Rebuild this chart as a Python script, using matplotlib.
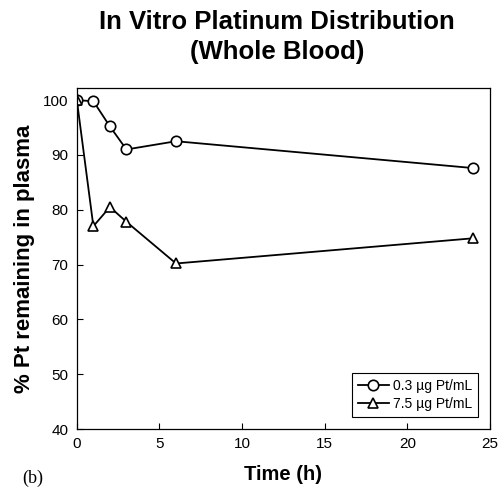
import matplotlib
matplotlib.use("Agg")
import matplotlib.pyplot as plt

time_h = [0, 1, 2, 3, 6, 24]
low_dose = [100, 99.8, 95.2, 91.0, 92.5, 87.6]
high_dose = [100, 77.0, 80.5, 77.8, 70.2, 74.8]
series_labels = ["0.3 \u00b5g Pt/mL", "7.5 \u00b5g Pt/mL"]
x_ticks = [0, 5, 10, 15, 20, 25]
y_ticks = [40, 50, 60, 70, 80, 90, 100]

plt.rcParams["font.family"] = ["Liberation Sans", "DejaVu Sans"]

fig = plt.figure(figsize=(4.99, 4.92), dpi=100)
ax = fig.add_axes([0.154, 0.128, 0.828, 0.693])

ax.plot(time_h, low_dose, color="black", lw=1.3, marker="o", ms=7.5,
        mfc="white", mec="black", mew=1.2, label=series_labels[0])
ax.plot(time_h, high_dose, color="black", lw=1.3, marker="^", ms=7.5,
        mfc="white", mec="black", mew=1.2, label=series_labels[1])

ax.set_xlim(0, 25)
ax.set_ylim(40, 102.2)
ax.set_xticks(x_ticks)
ax.set_yticks(y_ticks)
ax.tick_params(direction="in", length=4, width=0.8, labelsize=11, pad=6)
for sp in ax.spines.values():
    sp.set_linewidth(0.9)

ax.set_xlabel("Time (h)", fontsize=14.5, fontweight="bold", labelpad=10)
ax.set_ylabel("% Pt remaining in plasma", fontsize=16, fontweight="bold", labelpad=6)

fig.suptitle("In Vitro Platinum Distribution\n(Whole Blood)", fontsize=18.5,
             fontweight="bold", y=0.98, x=0.555, linespacing=1.3)

leg = ax.legend(loc="lower right", fontsize=10, frameon=True, fancybox=False,
                edgecolor="black", framealpha=1, borderaxespad=0.9,
                handlelength=2.2, handletextpad=0.3, borderpad=0.4,
                labelspacing=0.3)
leg.get_frame().set_linewidth(0.8)

fig.text(0.044, 0.018, "(b)", fontsize=13, family="Liberation Serif")

fig.savefig("out.png", dpi=100)
